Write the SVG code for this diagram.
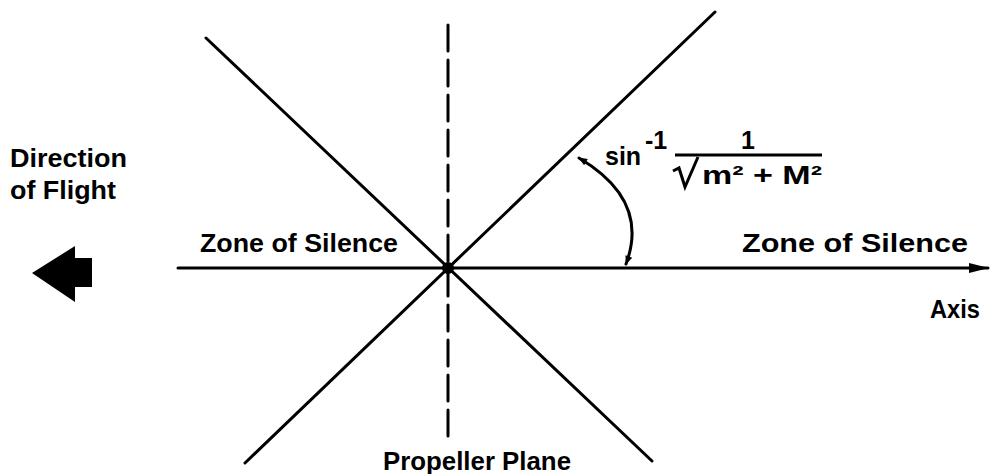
<svg xmlns="http://www.w3.org/2000/svg" width="991" height="474" viewBox="0 0 991 474">
<style>
.t{font-family:"Liberation Sans",Arial,sans-serif;font-weight:bold;font-size:25px;fill:#000}
.ln{stroke:#000;stroke-width:3;fill:none;stroke-linecap:round}
</style>
<defs>
<marker id="ah" viewBox="0 0 10 10" refX="9" refY="5" markerWidth="10" markerHeight="9" markerUnits="userSpaceOnUse" orient="auto-start-reverse"><path d="M0,1 L10,5 L0,9 z" fill="#000"/></marker>
<marker id="axh" viewBox="0 0 20 10" refX="19" refY="5" markerWidth="20" markerHeight="11" markerUnits="userSpaceOnUse" orient="auto"><path d="M0,0 L20,5 L0,10 z" fill="#000"/></marker>
</defs>
<rect width="991" height="474" fill="#fff"/>
<g id="connectors">
<line class="ln" x1="206" y1="38" x2="652" y2="461"/>
<line class="ln" x1="715" y1="12" x2="245" y2="463"/>
<line class="ln" x1="448" y1="25" x2="448" y2="440" stroke-dasharray="26 9" stroke-linecap="butt" stroke-width="3.2"/>
<line class="ln" x1="178" y1="268" x2="988" y2="268" marker-end="url(#axh)"/>
<path class="ln" d="M579,158 Q650,200 626,264" marker-start="url(#ah)" marker-end="url(#ah)"/>
</g>
<g id="center"><circle cx="448" cy="268" r="6" fill="#000"/></g>
<g id="flight">
<text class="t" x="10" y="167" textLength="117" lengthAdjust="spacingAndGlyphs">Direction</text>
<text class="t" x="10" y="199" textLength="106" lengthAdjust="spacingAndGlyphs">of Flight</text>
<polygon points="32,273 75,246 75,258 92,258 92,287 75,287 75,302" fill="#000"/>
</g>
<g id="zone-left"><text class="t" x="200" y="252" textLength="198" lengthAdjust="spacingAndGlyphs">Zone of Silence</text></g>
<g id="zone-right"><text class="t" x="742" y="252" textLength="226" lengthAdjust="spacingAndGlyphs">Zone of Silence</text></g>
<g id="axis-label"><text class="t" x="930" y="318" textLength="50" lengthAdjust="spacingAndGlyphs">Axis</text></g>
<g id="propeller"><text class="t" x="383" y="470" textLength="188" lengthAdjust="spacingAndGlyphs">Propeller Plane</text></g>
<g id="formula">
<text class="t" x="605" y="165" font-size="24">sin</text>
<text class="t" x="645" y="149" font-size="16">-1</text>
<text class="t" x="748" y="149" text-anchor="middle" font-size="24">1</text>
<line x1="675" y1="155" x2="822" y2="155" stroke="#000" stroke-width="3.2"/>
<polyline points="673,171 679,168 685,187 698,157" fill="none" stroke="#000" stroke-width="3"/>
<text class="t" x="702" y="184" font-size="25" textLength="120" lengthAdjust="spacingAndGlyphs">m² + M²</text>
</g>
</svg>
